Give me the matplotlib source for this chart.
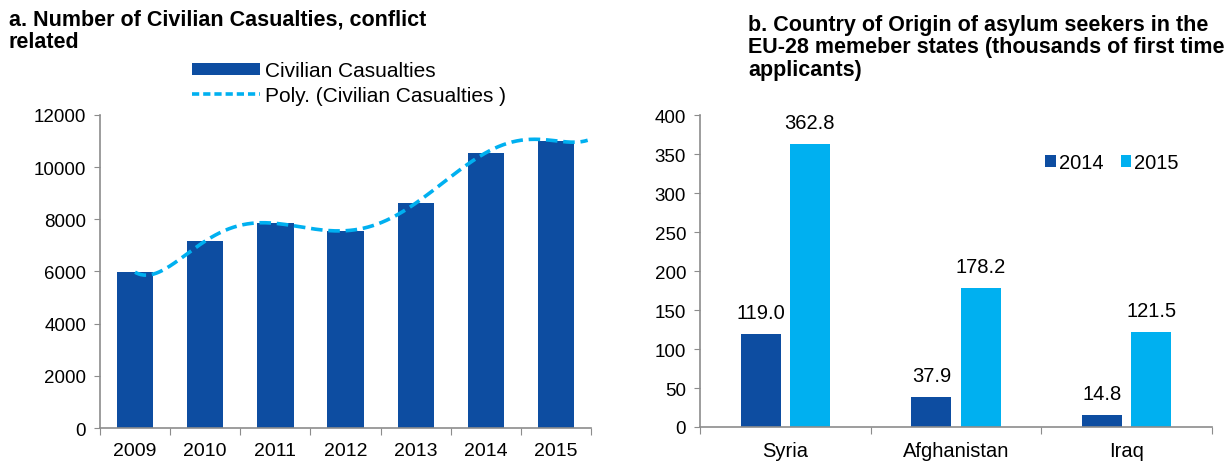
import matplotlib

matplotlib.use("Agg")
import matplotlib.pyplot as plt
import numpy as np
from matplotlib.lines import Line2D
from matplotlib.patches import Patch

plt.rcParams["font.family"] = ["Liberation Sans", "DejaVu Sans"]

DARK_BLUE = "#0D4DA1"
LIGHT_BLUE = "#00B0F0"
SPINE = "#8C8C8C"

# Panel a: civilian casualties per year
years = ["2009", "2010", "2011", "2012", "2013", "2014", "2015"]
casualties = [5969, 7162, 7842, 7559, 8615, 10548, 11002]

# Panel b: first-time asylum applicants (thousands)
countries = ["Syria", "Afghanistan", "Iraq"]
applicants_2014 = [119.0, 37.9, 14.8]
applicants_2015 = [362.8, 178.2, 121.5]


def style_axes(ax, n):
    for side in ("top", "right"):
        ax.spines[side].set_visible(False)
    for side in ("left", "bottom"):
        ax.spines[side].set_color(SPINE)
        ax.spines[side].set_linewidth(1.2)
    ax.set_xlim(-0.5, n - 0.5)
    # category ticks sit between the groups
    ax.set_xticks(np.arange(-0.5, n + 0.5, 1.0))
    ax.set_xticklabels([])
    ax.tick_params(axis="x", direction="out", length=5, color=SPINE)
    ax.tick_params(axis="y", direction="out", length=4, color=SPINE, labelsize=13.5, pad=6)


def category_labels(ax, labels, size):
    for i, lab in enumerate(labels):
        ax.text(i, -0.045, lab, transform=ax.get_xaxis_transform(),
                ha="center", va="top", fontsize=size)


fig = plt.figure(figsize=(12.25, 4.64), dpi=100)

# --- panel a ---
ax1 = fig.add_axes([0.0816, 0.0754, 0.401, 0.675])
x1 = np.arange(len(years))
ax1.bar(x1, casualties, width=0.52, color=DARK_BLUE, zorder=2)

# polynomial trend through the yearly totals
coef = np.polyfit(x1, casualties, 6)
xs = np.linspace(0, len(years) - 0.55, 300)
ax1.plot(xs, np.polyval(coef, xs), color=LIGHT_BLUE, lw=2.6,
         dashes=(3.2, 1.6), zorder=3)

style_axes(ax1, len(years))
ax1.set_ylim(0, 12000)
ax1.set_yticks(range(0, 12001, 2000))
category_labels(ax1, years, 14)

fig.text(0.007, 0.98, "a. Number of Civilian Casualties, conflict\nrelated",
         fontsize=15.5, fontweight="bold", va="top", ha="left", linespacing=1.1)

handles = [
    Patch(facecolor=DARK_BLUE, edgecolor="none"),
    Line2D([0], [0], color=LIGHT_BLUE, lw=2.6, dashes=(2.0, 1.1)),
]
fig.legend(handles, ["Civilian Casualties", "Poly. (Civilian Casualties )"],
           loc="upper left", bbox_to_anchor=(0.148, 0.888), frameon=False,
           fontsize=15, handlelength=3.3, handleheight=0.45, handletextpad=0.2,
           labelspacing=0.25, borderpad=0)

# --- panel b ---
ax2 = fig.add_axes([0.5714, 0.0776, 0.418, 0.672])
x2 = np.arange(len(countries))
w = 0.235
b14 = ax2.bar(x2 - 0.144, applicants_2014, width=w, color=DARK_BLUE, label="2014", zorder=2)
b15 = ax2.bar(x2 + 0.144, applicants_2015, width=w, color=LIGHT_BLUE, label="2015", zorder=2)
for bars in (b14, b15):
    ax2.bar_label(bars, labels=[f"{v:.1f}" for v in bars.datavalues],
                  padding=9, fontsize=14.5)

style_axes(ax2, len(countries))
ax2.set_ylim(0, 400)
ax2.set_yticks(range(0, 401, 50))
category_labels(ax2, countries, 14.5)

ax2.legend(loc="upper right", bbox_to_anchor=(0.955, 0.91), ncol=2, frameon=False,
           fontsize=14.5, handlelength=0.5, handleheight=0.5, handletextpad=0.15,
           columnspacing=0.9, borderpad=0)

fig.text(0.611, 0.968,
         "b. Country of Origin of asylum seekers in the\n"
         "EU-28 memeber states (thousands of first time\napplicants)",
         fontsize=15.5, fontweight="bold", va="top", ha="left", linespacing=1.1)

fig.savefig("out.png", dpi=100)
plt.close(fig)
